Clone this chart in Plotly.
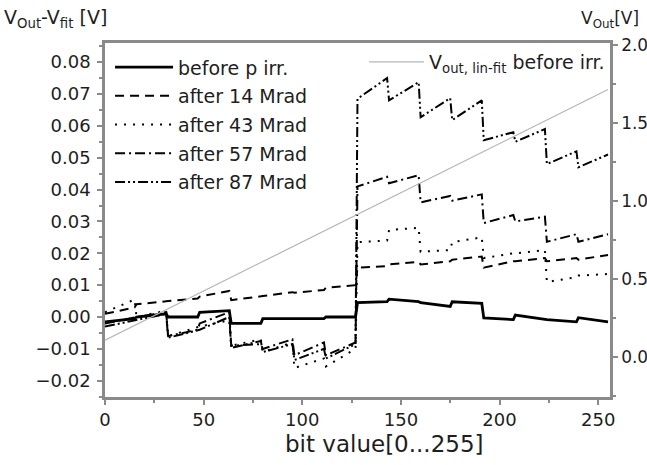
import plotly.graph_objects as go

# bit positions: start and end of every 16-bit segment
bits = [0, 15, 16, 31, 32, 47, 48, 63, 64, 79, 80, 95, 96, 111, 112, 127,
        128, 143, 144, 159, 160, 175, 176, 191, 192, 207, 208, 223, 224, 239, 240, 255]

before_p = [-0.0015, -0.0005, 0.0, 0.001, 0.0, 0.0, 0.0015, 0.002,
            -0.002, -0.002, -0.0005, -0.0005, -0.0005, -0.0005, 0.0, 0.0,
            0.0045, 0.0048, 0.0056, 0.0048, 0.0045, 0.0033, 0.0048, 0.0043,
            -0.0003, -0.0008, 0.0006, -0.0005, -0.0008, -0.0015, -0.0002, -0.0015]

after_14 = [0.001, 0.003, 0.004, 0.005, 0.005, 0.0058, 0.0064, 0.0082,
            0.0053, 0.0065, 0.0066, 0.0078, 0.0076, 0.0085, 0.0092, 0.010,
            0.0155, 0.016, 0.0165, 0.0173, 0.0165, 0.0175, 0.018, 0.019,
            0.0155, 0.0175, 0.0175, 0.0185, 0.0175, 0.0185, 0.018, 0.0195]

after_43 = [0.0015, 0.0055, 0.0, 0.002, -0.006, -0.003, -0.003, -0.001,
            -0.009, -0.007, -0.011, -0.008, -0.016, -0.013, -0.0155, -0.010,
            0.0235, 0.024, 0.0273, 0.028, 0.0205, 0.021, 0.0235, 0.025,
            0.0185, 0.020, 0.020, 0.021, 0.011, 0.0125, 0.013, 0.0135]

after_57 = [-0.002, 0.0, 0.0, 0.0015, -0.006, -0.004, -0.002, 0.0015,
            -0.009, -0.0085, -0.010, -0.007, -0.012, -0.008, -0.012, -0.008,
            0.041, 0.044, 0.042, 0.0445, 0.036, 0.038, 0.0365, 0.0385,
            0.0295, 0.032, 0.030, 0.0315, 0.0236, 0.026, 0.0236, 0.026]

after_87 = [-0.003, -0.001, -0.001, 0.001, -0.0065, -0.004, -0.004, 0.0,
            -0.0097, -0.0075, -0.011, -0.0085, -0.0135, -0.010, -0.013, -0.0085,
            0.0685, 0.075, 0.068, 0.0737, 0.0627, 0.0687, 0.0618, 0.068,
            0.0555, 0.058, 0.055, 0.059, 0.048, 0.052, 0.047, 0.051]

fit_bits = [0, 255]
fit_vout = [0.108, 1.715]

x_ticks = [0, 50, 100, 150, 200, 250]

series = [
    ("before p irr.", before_p, "solid", 2.8),
    ("after 14 Mrad", after_14, "9px,6px", 2.0),
    ("after 43 Mrad", after_43, "2px,7px", 2.0),
    ("after 57 Mrad", after_57, "10px,4px,2px,4px", 2.0),
    ("after 87 Mrad", after_87, "10px,3px,2px,3px,2px,3px", 2.0),
]

FONT = "DejaVu Sans, sans-serif"
TXT = "#1e1e1e"
fig = go.Figure()
for i, (name, vals, dash, w) in enumerate(series):
    fig.add_trace(go.Scatter(x=bits, y=vals, mode="lines", name=name,
                             legendgroup=f"g{i}",
                             line=dict(color="black", width=w, dash=dash)))

fig.add_trace(go.Scatter(x=fit_bits, y=fit_vout, mode="lines", yaxis="y2",
                         name="V<sub>out, lin-fit</sub> before irr.",
                         legend="legend2",
                         line=dict(color="#b5b5b5", width=1.2)))

axcol = "#8a8a8a"
fig.update_layout(
    width=647, height=465,
    margin=dict(l=105, r=37, t=43, b=68, autoexpand=False),
    paper_bgcolor="white", plot_bgcolor="white",
    font=dict(family=FONT, size=18, color=TXT),
    xaxis=dict(range=[0, 256], tickvals=x_ticks, automargin=False,
               ticks="outside", ticklen=5, tickwidth=1.5, tickcolor=axcol,
               minor=dict(dtick=25, tick0=0, ticks="outside", ticklen=3, tickcolor=axcol),
               showline=True, linecolor=axcol, linewidth=2.5, mirror=True,
               showgrid=False, zeroline=False,
               tickfont=dict(size=18, color=TXT)),
    yaxis=dict(range=[-0.0251, 0.086], dtick=0.01, tick0=0, tickformat=".2f",
               automargin=False, ticklabelstandoff=3,
               ticks="outside", ticklen=5, tickwidth=1.5, tickcolor=axcol,
               minor=dict(dtick=0.005, tick0=0, ticks="outside", ticklen=3, tickcolor=axcol),
               showline=True, linecolor=axcol, linewidth=2.5,
               showgrid=False, zeroline=False, tickfont=dict(size=18, color=TXT)),
    yaxis2=dict(range=[-0.256, 2.013], dtick=0.5, tick0=0, tickformat=".1f",
                overlaying="y", side="right", automargin=False, ticklabelstandoff=0,
                ticks="outside", ticklen=5, tickwidth=1.5, tickcolor=axcol,
                minor=dict(dtick=0.25, tick0=0, ticks="outside", ticklen=3, tickcolor=axcol),
                showline=True, linecolor=axcol, linewidth=2.5,
                showgrid=False, zeroline=False, tickfont=dict(size=17, color=TXT)),
    legend=dict(x=0.01, y=0.985, xanchor="left", yanchor="top",
                bgcolor="rgba(0,0,0,0)", font=dict(size=19, color=TXT),
                tracegroupgap=1, itemwidth=58),
    legend2=dict(x=1.0, y=1.0, xanchor="right", yanchor="top",
                 bgcolor="rgba(0,0,0,0)", font=dict(size=19, color=TXT),
                 itemwidth=55),
    annotations=[
        dict(text="V<sub>Out</sub>-V<sub>fit</sub> [V]", xref="paper", yref="paper",
             x=-0.203, y=1.027, xanchor="left", yanchor="bottom", showarrow=False,
             font=dict(size=19, color=TXT)),
        dict(text="V<sub>Out</sub>[V]", xref="paper", yref="paper",
             x=1.061, y=1.027, xanchor="right", yanchor="bottom", showarrow=False,
             font=dict(size=17, color=TXT)),
        dict(text="bit value[0...255]", xref="paper", yref="paper",
             x=0.554, y=-0.134, xanchor="center", yanchor="middle", showarrow=False,
             font=dict(size=23, color=TXT)),
    ],
)

fig.write_html("out.html", config={"displayModeBar": False},
               post_script="document.body.style.margin='0';")
